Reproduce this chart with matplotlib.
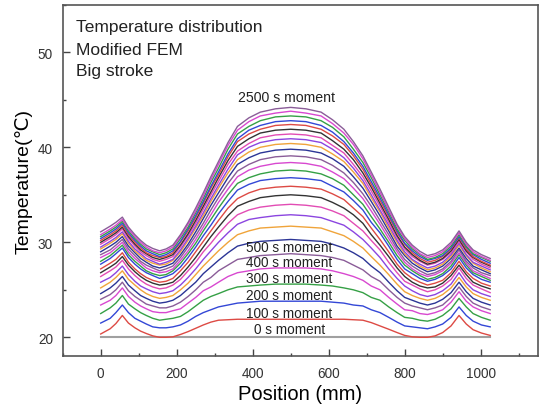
import matplotlib
matplotlib.use("Agg")
import matplotlib.pyplot as plt
from matplotlib.ticker import MultipleLocator

plt.rcParams['font.family'] = ['Liberation Sans', 'DejaVu Sans']

# positions along the part (mm)
pos = [0, 25, 40, 57, 73, 90, 105, 120, 137, 155, 172, 190, 210, 230, 250, 270,
       290, 310, 335, 360, 390, 420, 460, 500, 540, 580, 610, 640, 665, 690,
       712, 735, 758, 780, 800, 820, 840, 860, 880, 900, 922, 943, 962, 980,
       1002, 1025]

# temperature profiles (deg C), one list per moment
t0 = [20.0] * len(pos)
t100 = [20.35, 20.9, 21.45, 22.3, 21.5, 21.0, 20.65, 20.4, 20.15, 20.0, 20.0, 20.05, 20.3, 20.6, 20.95, 21.3, 21.6, 21.8, 21.85, 21.9, 21.9, 21.9, 21.9, 21.9, 21.9, 21.9, 21.9, 21.9, 21.85, 21.8, 21.55, 21.2, 20.85, 20.5, 20.2, 20.05, 20.0, 20.0, 20.15, 20.5, 21.2, 22.3, 21.4, 20.8, 20.45, 20.2]
t200 = [21.5, 22.0, 22.6, 23.4, 22.6, 22.0, 21.7, 21.4, 21.1, 21.0, 21.0, 21.1, 21.3, 21.7, 22.2, 22.6, 22.9, 23.2, 23.4, 23.6, 23.7, 23.8, 23.8, 23.8, 23.8, 23.8, 23.7, 23.6, 23.4, 23.3, 22.9, 22.6, 22.1, 21.6, 21.2, 21.1, 21.0, 20.9, 21.1, 21.4, 22.1, 23.2, 22.3, 21.7, 21.3, 21.1]
t300 = [22.5, 23.1, 23.6, 24.4, 23.5, 23.0, 22.6, 22.3, 22.0, 21.8, 21.9, 22.0, 22.2, 22.7, 23.3, 23.9, 24.3, 24.6, 25.0, 25.3, 25.4, 25.5, 25.6, 25.6, 25.6, 25.5, 25.4, 25.2, 25.0, 24.7, 24.2, 23.9, 23.2, 22.6, 22.1, 22.0, 21.8, 21.7, 21.9, 22.3, 23.0, 24.1, 23.2, 22.5, 22.1, 21.8]
t400 = [23.4, 23.9, 24.4, 25.2, 24.3, 23.7, 23.3, 23.0, 22.7, 22.6, 22.6, 22.8, 23.0, 23.6, 24.2, 24.9, 25.3, 25.8, 26.4, 26.8, 27.0, 27.2, 27.3, 27.3, 27.3, 27.2, 27.0, 26.7, 26.4, 26.0, 25.4, 25.0, 24.2, 23.5, 22.9, 22.8, 22.5, 22.4, 22.6, 22.9, 23.7, 24.8, 23.8, 23.2, 22.8, 22.5]
t500 = [24.0, 24.5, 25.0, 25.8, 24.9, 24.3, 23.9, 23.5, 23.3, 23.1, 23.1, 23.3, 23.7, 24.3, 25.0, 25.8, 26.3, 27.0, 27.6, 28.2, 28.4, 28.6, 28.7, 28.8, 28.7, 28.6, 28.4, 28.1, 27.6, 27.1, 26.4, 25.9, 25.0, 24.2, 23.6, 23.3, 23.1, 22.9, 23.1, 23.4, 24.2, 25.3, 24.3, 23.6, 23.2, 22.9]
t600 = [24.6, 25.2, 25.7, 26.4, 25.5, 24.9, 24.4, 24.1, 23.8, 23.6, 23.7, 23.9, 24.4, 25.1, 25.8, 26.7, 27.4, 28.1, 28.9, 29.6, 29.9, 30.1, 30.2, 30.3, 30.2, 30.1, 29.8, 29.4, 28.9, 28.3, 27.5, 26.8, 25.8, 24.9, 24.2, 23.9, 23.6, 23.4, 23.6, 24.0, 24.7, 25.8, 24.8, 24.1, 23.7, 23.4]
t700 = [25.2, 25.8, 26.3, 27.0, 26.1, 25.5, 25.0, 24.6, 24.3, 24.1, 24.2, 24.4, 25.0, 25.7, 26.6, 27.5, 28.3, 29.1, 30.0, 30.8, 31.2, 31.5, 31.6, 31.7, 31.6, 31.5, 31.1, 30.7, 30.1, 29.4, 28.5, 27.6, 26.6, 25.6, 24.8, 24.4, 24.1, 23.9, 24.1, 24.5, 25.2, 26.3, 25.3, 24.6, 24.2, 23.9]
t800 = [25.8, 26.3, 26.8, 27.5, 26.6, 25.9, 25.4, 25.1, 24.8, 24.6, 24.7, 24.9, 25.5, 26.3, 27.2, 28.2, 29.1, 30.0, 31.0, 31.9, 32.4, 32.6, 32.8, 32.9, 32.8, 32.6, 32.2, 31.8, 31.1, 30.3, 29.4, 28.4, 27.2, 26.2, 25.4, 24.9, 24.5, 24.3, 24.5, 24.9, 25.6, 26.8, 25.7, 25.0, 24.6, 24.3]
t900 = [26.4, 27.0, 27.4, 28.1, 27.2, 26.5, 26.0, 25.6, 25.3, 25.1, 25.2, 25.5, 26.1, 27.0, 27.9, 29.0, 29.9, 30.9, 32.0, 32.9, 33.4, 33.7, 33.9, 34.0, 33.9, 33.7, 33.3, 32.8, 32.0, 31.2, 30.2, 29.2, 27.9, 26.8, 25.9, 25.5, 25.1, 24.8, 25.0, 25.4, 26.1, 27.3, 26.2, 25.5, 25.1, 24.7]
t1000 = [26.8, 27.4, 27.8, 28.5, 27.6, 26.9, 26.4, 26.0, 25.7, 25.5, 25.6, 25.8, 26.5, 27.4, 28.4, 29.5, 30.6, 31.6, 32.8, 33.8, 34.3, 34.7, 34.9, 35.0, 34.9, 34.7, 34.2, 33.6, 32.9, 32.0, 30.8, 29.7, 28.5, 27.3, 26.4, 25.8, 25.4, 25.2, 25.3, 25.7, 26.5, 27.6, 26.6, 25.8, 25.4, 25.1]
t1100 = [27.2, 27.8, 28.2, 28.9, 27.9, 27.2, 26.7, 26.3, 26.0, 25.8, 25.9, 26.2, 27.0, 27.9, 29.0, 30.1, 31.2, 32.3, 33.6, 34.6, 35.2, 35.6, 35.8, 35.9, 35.8, 35.6, 35.1, 34.5, 33.6, 32.7, 31.5, 30.3, 29.0, 27.7, 26.8, 26.2, 25.8, 25.5, 25.7, 26.0, 26.8, 28.0, 26.9, 26.2, 25.7, 25.4]
t1200 = [27.7, 28.3, 28.8, 29.4, 28.4, 27.7, 27.2, 26.8, 26.5, 26.2, 26.4, 26.7, 27.4, 28.4, 29.5, 30.7, 31.8, 33.0, 34.3, 35.5, 36.1, 36.5, 36.7, 36.8, 36.7, 36.5, 35.9, 35.3, 34.4, 33.4, 32.1, 31.0, 29.6, 28.2, 27.2, 26.7, 26.2, 25.9, 26.1, 26.5, 27.2, 28.4, 27.3, 26.6, 26.1, 25.8]
t1300 = [28.0, 28.6, 29.1, 29.7, 28.7, 28.0, 27.5, 27.0, 26.7, 26.5, 26.6, 27.0, 27.8, 28.8, 29.9, 31.2, 32.4, 33.6, 35.0, 36.2, 36.8, 37.2, 37.5, 37.6, 37.5, 37.2, 36.7, 36.0, 35.0, 34.0, 32.7, 31.4, 30.0, 28.6, 27.6, 27.0, 26.5, 26.1, 26.3, 26.7, 27.5, 28.7, 27.6, 26.8, 26.4, 26.0]
t1400 = [28.4, 28.9, 29.4, 30.0, 29.0, 28.3, 27.8, 27.3, 27.0, 26.8, 26.9, 27.2, 28.1, 29.1, 30.3, 31.6, 32.9, 34.2, 35.6, 36.9, 37.6, 38.0, 38.3, 38.4, 38.3, 38.0, 37.4, 36.7, 35.7, 34.6, 33.3, 31.9, 30.4, 29.0, 27.9, 27.2, 26.7, 26.4, 26.6, 27.0, 27.8, 28.9, 27.8, 27.0, 26.6, 26.2]
t1500 = [28.7, 29.2, 29.7, 30.3, 29.3, 28.6, 28.0, 27.6, 27.3, 27.0, 27.2, 27.5, 28.4, 29.5, 30.7, 32.0, 33.4, 34.7, 36.2, 37.5, 38.2, 38.7, 39.0, 39.1, 39.0, 38.7, 38.1, 37.3, 36.3, 35.1, 33.8, 32.3, 30.8, 29.3, 28.2, 27.5, 27.0, 26.6, 26.8, 27.2, 28.0, 29.2, 28.0, 27.3, 26.8, 26.5]
t1600 = [29.0, 29.6, 30.0, 30.6, 29.6, 28.9, 28.3, 27.9, 27.5, 27.3, 27.5, 27.8, 28.7, 29.8, 31.1, 32.5, 33.9, 35.2, 36.8, 38.2, 38.9, 39.4, 39.7, 39.8, 39.7, 39.4, 38.8, 38.0, 36.9, 35.7, 34.3, 32.8, 31.2, 29.6, 28.6, 27.8, 27.3, 26.9, 27.1, 27.5, 28.3, 29.4, 28.3, 27.5, 27.1, 26.7]
t1700 = [29.3, 29.9, 30.3, 30.9, 29.9, 29.1, 28.6, 28.1, 27.8, 27.6, 27.7, 28.1, 29.0, 30.2, 31.5, 32.8, 34.3, 35.7, 37.3, 38.7, 39.5, 40.0, 40.3, 40.4, 40.3, 40.0, 39.3, 38.5, 37.4, 36.2, 34.7, 33.2, 31.5, 30.0, 28.8, 28.1, 27.5, 27.1, 27.3, 27.7, 28.5, 29.7, 28.6, 27.8, 27.3, 26.9]
t1800 = [29.5, 30.1, 30.5, 31.1, 30.1, 29.3, 28.8, 28.3, 28.0, 27.7, 27.9, 28.2, 29.2, 30.4, 31.7, 33.1, 34.6, 36.0, 37.7, 39.2, 40.0, 40.5, 40.8, 40.9, 40.8, 40.5, 39.8, 38.9, 37.8, 36.5, 35.0, 33.4, 31.8, 30.2, 29.0, 28.2, 27.7, 27.3, 27.5, 27.9, 28.7, 29.9, 28.7, 27.9, 27.5, 27.1]
t1900 = [29.8, 30.4, 30.8, 31.4, 30.4, 29.6, 29.0, 28.6, 28.2, 28.0, 28.2, 28.5, 29.5, 30.7, 32.0, 33.5, 35.0, 36.4, 38.2, 39.6, 40.4, 41.0, 41.3, 41.4, 41.3, 41.0, 40.2, 39.4, 38.2, 36.9, 35.4, 33.8, 32.1, 30.5, 29.3, 28.5, 28.0, 27.6, 27.8, 28.2, 28.9, 30.1, 29.0, 28.2, 27.7, 27.3]
t2000 = [30.0, 30.6, 31.0, 31.6, 30.6, 29.8, 29.2, 28.8, 28.4, 28.2, 28.4, 28.7, 29.7, 30.9, 32.3, 33.8, 35.3, 36.8, 38.6, 40.1, 40.9, 41.5, 41.8, 41.9, 41.8, 41.5, 40.7, 39.8, 38.7, 37.3, 35.8, 34.1, 32.4, 30.7, 29.5, 28.7, 28.1, 27.7, 27.9, 28.3, 29.1, 30.3, 29.1, 28.4, 27.9, 27.5]
t2100 = [30.2, 30.8, 31.2, 31.8, 30.8, 30.0, 29.4, 28.9, 28.6, 28.4, 28.5, 28.9, 30.0, 31.2, 32.6, 34.1, 35.7, 37.1, 39.0, 40.6, 41.4, 41.9, 42.3, 42.4, 42.3, 41.9, 41.2, 40.3, 39.1, 37.7, 36.1, 34.4, 32.7, 31.0, 29.8, 28.9, 28.3, 27.9, 28.1, 28.5, 29.3, 30.5, 29.3, 28.5, 28.0, 27.6]
t2200 = [30.4, 31.0, 31.4, 32.0, 31.0, 30.2, 29.6, 29.1, 28.8, 28.5, 28.7, 29.1, 30.1, 31.4, 32.8, 34.3, 35.9, 37.4, 39.3, 40.9, 41.8, 42.3, 42.7, 42.8, 42.7, 42.3, 41.6, 40.6, 39.4, 38.0, 36.4, 34.7, 32.9, 31.2, 29.9, 29.1, 28.5, 28.1, 28.3, 28.6, 29.4, 30.6, 29.5, 28.7, 28.2, 27.8]
t2300 = [30.6, 31.2, 31.6, 32.2, 31.2, 30.4, 29.8, 29.3, 29.0, 28.7, 28.9, 29.3, 30.4, 31.6, 33.1, 34.6, 36.3, 37.8, 39.8, 41.4, 42.2, 42.8, 43.2, 43.3, 43.2, 42.8, 42.1, 41.1, 39.8, 38.4, 36.8, 35.0, 33.2, 31.4, 30.2, 29.3, 28.7, 28.2, 28.4, 28.8, 29.6, 30.8, 29.6, 28.8, 28.4, 28.0]
t2400 = [30.8, 31.4, 31.8, 32.4, 31.4, 30.6, 30.0, 29.5, 29.1, 28.9, 29.1, 29.5, 30.6, 31.9, 33.3, 34.9, 36.6, 38.2, 40.2, 41.8, 42.7, 43.3, 43.6, 43.8, 43.6, 43.3, 42.5, 41.5, 40.3, 38.8, 37.1, 35.3, 33.4, 31.7, 30.4, 29.5, 28.8, 28.4, 28.6, 29.0, 29.8, 31.0, 29.8, 29.0, 28.5, 28.1]
t2500 = [31.1, 31.7, 32.1, 32.65, 31.6, 30.8, 30.2, 29.7, 29.35, 29.1, 29.3, 29.7, 30.8, 32.1, 33.6, 35.2, 36.9, 38.5, 40.5, 42.2, 43.1, 43.7, 44.05, 44.2, 44.05, 43.7, 42.9, 41.9, 40.6, 39.1, 37.4, 35.6, 33.7, 31.9, 30.6, 29.7, 29.05, 28.6, 28.8, 29.2, 30.0, 31.2, 30.0, 29.2, 28.7, 28.3]

series = [t100, t200, t300, t400, t500, t600, t700, t800, t900, t1000,
          t1100, t1200, t1300, t1400, t1500, t1600, t1700, t1800, t1900, t2000,
          t2100, t2200, t2300, t2400, t2500]

labels = ['0 s moment', '100 s moment', '200 s moment', '300 s moment',
          '400 s moment', '500 s moment']
label_y = [20.85, 22.6, 24.45, 26.2, 27.95, 29.5]

colors = ['#dd4a44', '#3347d6', '#35a045', '#d848d0', '#8a5c98',
          '#2c3596', '#f0a43a', '#8b45e0', '#e24cb4', '#333333']

fig = plt.figure(figsize=(5.4, 4.1), dpi=100)
ax = fig.add_axes([0.1161, 0.1285, 0.8796, 0.8574])

ax.plot(pos, t0, color='#a0a0a0', lw=1.5)
for i, s in enumerate(series):
    ax.plot(pos, s, color=colors[i % len(colors)], lw=1.0)

for txt, y in zip(labels, label_y):
    ax.text(497, y, txt, ha='center', va='center', fontsize=9.8, color='#222222')
ax.text(490, 45.3, '2500 s moment', ha='center', va='center', fontsize=10.2, color='#222222')

# annotation block in the upper left corner
for txt, y in zip(['Temperature distribution', 'Modified FEM', 'Big stroke'],
                  [0.937, 0.874, 0.812]):
    ax.text(0.027, y, txt, transform=ax.transAxes, ha='left', va='center',
            fontsize=12.5, color='#222222')

ax.set_xlim(-100, 1150)
ax.set_ylim(18, 55)
ax.xaxis.set_minor_locator(MultipleLocator(100))
ax.yaxis.set_major_locator(MultipleLocator(10))
ax.yaxis.set_minor_locator(MultipleLocator(5))
ax.set_xticks([0, 200, 400, 600, 800, 1000])
ax.tick_params(which='both', direction='in', colors='#444444', labelcolor='#333333',
               labelsize=9.8, width=1.0)
ax.tick_params(which='major', length=5, pad=7)
ax.tick_params(which='minor', length=2.5)
for sp in ax.spines.values():
    sp.set_color('#555555')
    sp.set_linewidth(1.2)

ax.set_xlabel('Position (mm)', fontsize=14.5, labelpad=3)
ax.set_ylabel('Temperature(\u2103)', fontsize=14, labelpad=4)

fig.savefig('out.png', dpi=100)
